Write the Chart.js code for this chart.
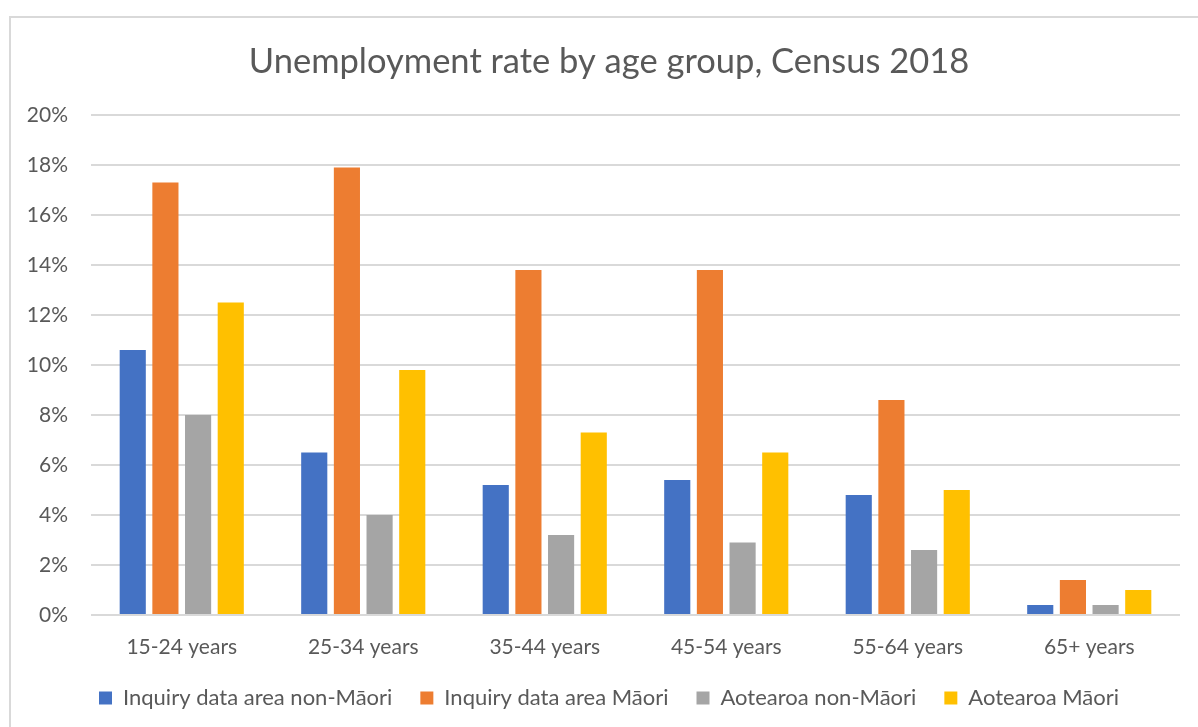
<!DOCTYPE html>
<html>
<head>
<meta charset="utf-8">
<script src="https://cdn.jsdelivr.net/npm/chart.js@4.4.1/dist/chart.umd.min.js"></script>
<style>
  html, body { margin: 0; padding: 0; background: #ffffff; overflow: hidden; }
  #frame {
    position: absolute; left: 9px; top: 16px; width: 1250px; height: 780px;
    border: 2px solid #d9d9d9; box-sizing: border-box;
  }
  #wrap { position: absolute; left: 0; top: 0; width: 1218px; height: 727px; }
</style>
</head>
<body>
<div id="frame"></div>
<div id="wrap"><canvas id="chart" width="1218" height="727"></canvas></div>
<script>
const ageGroups = ['15-24 years', '25-34 years', '35-44 years', '45-54 years', '55-64 years', '65+ years'];
const inquiryNonMaori = [10.6, 6.5, 5.2, 5.4, 4.8, 0.4];
const inquiryMaori = [17.3, 17.9, 13.8, 13.8, 8.6, 1.4];
const aotearoaNonMaori = [8.0, 4.0, 3.2, 2.9, 2.6, 0.4];
const aotearoaMaori = [12.5, 9.8, 7.3, 6.5, 5.0, 1.0];
const yTicks = [0, 2, 4, 6, 8, 10, 12, 14, 16, 18, 20];

const FONT = 'Lato, "Open Sans", sans-serif';
const TEXT = '#595959';

function series(label, data, color) {
  return {
    label, data,
    backgroundColor: color,
    borderWidth: 0,
    barPercentage: 0.8,
    categoryPercentage: 0.72
  };
}

new Chart(document.getElementById('chart'), {
  type: 'bar',
  data: {
    labels: ageGroups,
    datasets: [
      series('Inquiry data area non-Māori', inquiryNonMaori, '#4472c4'),
      series('Inquiry data area Māori', inquiryMaori, '#ed7d31'),
      series('Aotearoa non-Māori', aotearoaNonMaori, '#a5a5a5'),
      series('Aotearoa Māori', aotearoaMaori, '#ffc000')
    ]
  },
  options: {
    responsive: false,
    animation: false,
    layout: { padding: { left: 0, right: 0, top: 0, bottom: 8 } },
    plugins: {
      title: {
        display: true,
        text: 'Unemployment rate by age group, Census 2018',
        color: TEXT,
        font: { family: FONT, size: 34.5, weight: 'normal' },
        padding: { top: 41, bottom: 32.5 }
      },
      legend: {
        position: 'bottom',
        labels: {
          color: TEXT,
          font: { family: FONT, size: 22 },
          boxWidth: 13,
          boxHeight: 13,
          padding: 28
        }
      },
      tooltip: { enabled: false }
    },
    scales: {
      x: {
        afterFit: (scale) => { scale.height = 44; },
        grid: { display: false, drawTicks: false },
        border: { display: false },
        ticks: { color: TEXT, font: { family: FONT, size: 21 }, padding: 20, maxRotation: 0 }
      },
      y: {
        min: 0, max: 20,
        afterBuildTicks: (scale) => { scale.ticks = yTicks.map(v => ({ value: v })); },
        afterFit: (scale) => { scale.width = 91; },
        grid: { color: '#d9d9d9', lineWidth: 2, drawTicks: false },
        border: { display: false },
        ticks: { color: TEXT, font: { family: FONT, size: 21 }, padding: 23, callback: v => v + '%' }
      },
      // empty right-hand margin inside the plot frame
      gutter: {
        position: 'right',
        afterFit: (scale) => { scale.width = 38; },
        grid: { display: false, drawTicks: false },
        border: { display: false },
        ticks: { display: false }
      }
    }
  }
});
</script>
</body>
</html>
